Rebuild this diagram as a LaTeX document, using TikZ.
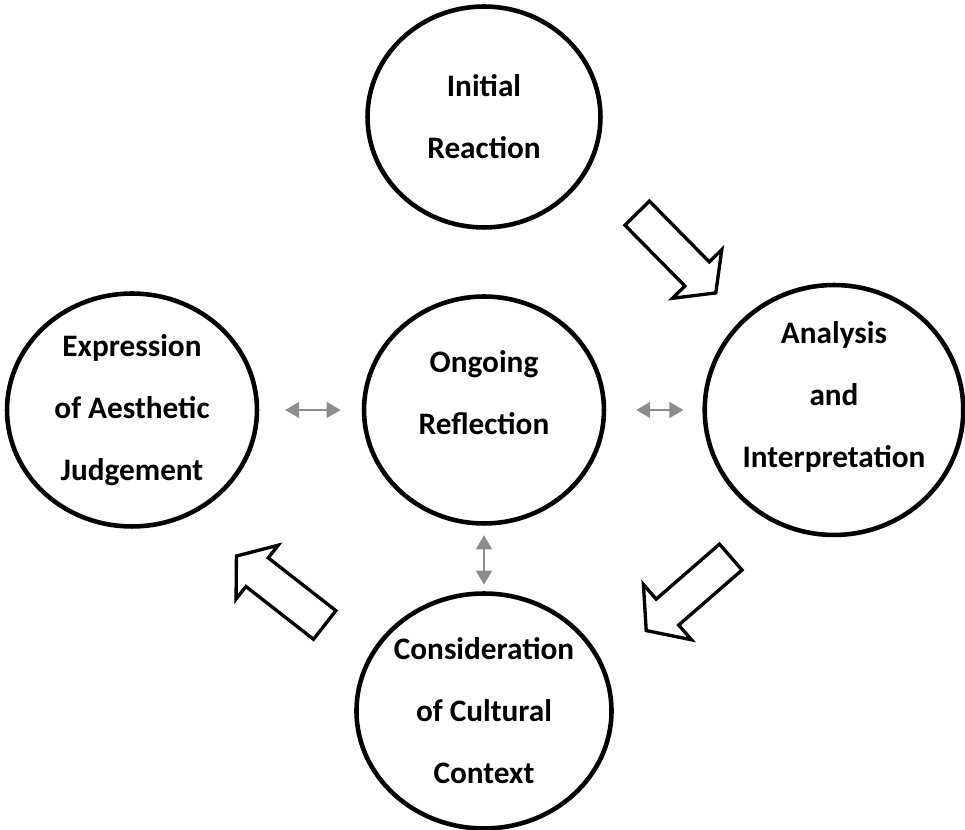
\documentclass[tikz,border=0pt]{standalone}
\usepackage{fontspec}
\setmainfont{Carlito}
\usetikzlibrary{shapes.geometric,shapes.arrows,arrows.meta}
\definecolor{linkgray}{HTML}{8C8C8C}
\begin{document}
\begin{tikzpicture}[x=0.02cm, y=-0.02cm,
    stage/.style={ellipse, draw=black, line width=2.6pt, fill=white, align=center, inner sep=0pt,
        font=\fontsize{17.8pt}{35.3pt}\selectfont\bfseries},
    flow/.style={single arrow, draw=black, line width=1.9pt, fill=white, anchor=tail,
        inner xsep=0pt, inner ysep=0.31cm, minimum height=2.24cm,
        single arrow head extend=0.35cm, single arrow tip angle=105},
    link/.style={draw=linkgray, line width=1.1pt,
        {Triangle[length=8pt,width=9pt]}-{Triangle[length=8pt,width=9pt]}}
]
\useasboundingbox (0,0) rectangle (965,830);

% -------- Etapas (circulos) --------
\node[stage, minimum width=4.66cm, minimum height=4.42cm] (initial) at (484,117) {Initial\\Reaction};
\node[stage, minimum width=4.8cm, minimum height=4.54cm, text depth=20pt] (ongoing) at (484,410) {Ongoing\\Reflection};
\node[stage, minimum width=5.0cm, minimum height=4.66cm] (expression) at (132,410) {Expression\\of Aesthetic\\Judgement};
\node[stage, minimum width=4.84cm, minimum height=4.58cm, text depth=17.5pt] (analysis) at (834,410) {Analysis\\and\\Interpretation};
\node[stage, minimum width=4.74cm, minimum height=4.7cm] (context) at (484,711) {Consideration\\of Cultural\\Context};

% Flechas huecas del ciclo
\node[flow, rotate=-45.4] (flowA) at (636,212) {};
\node[flow, rotate=-139, single arrow head extend=0.39cm] (flowB) at (732,556) {};
\node[flow, rotate=142, inner ysep=0.33cm, single arrow head extend=0.32cm] (flowC) at (326,626) {};

% Enlaces con la reflexion
\draw[link, shorten <=14.7pt, shorten >=12pt] (expression) -- (ongoing);
\draw[link, shorten <=17pt, shorten >=10.8pt] (ongoing) -- (analysis);
\draw[link, shorten <=5.4pt, shorten >=3.7pt] (ongoing) -- (context);
\end{tikzpicture}
\end{document}
